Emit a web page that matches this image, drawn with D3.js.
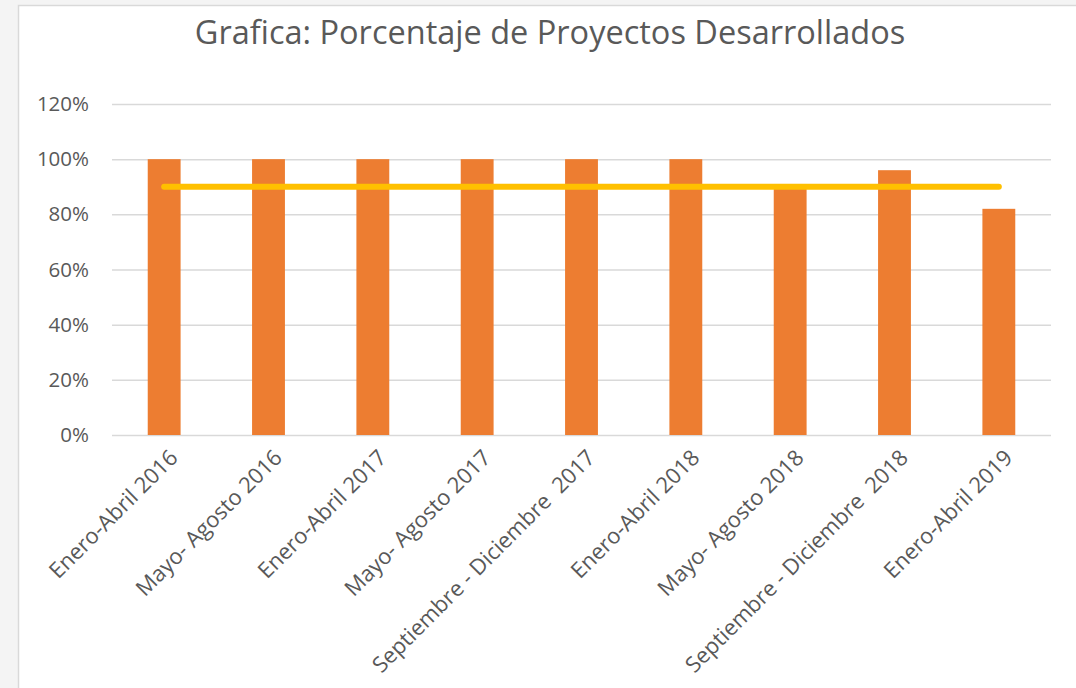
<!DOCTYPE html>
<html>
<head>
<meta charset="utf-8">
<script src="https://cdn.jsdelivr.net/npm/d3@7"></script>
<style>
  body { margin: 0; background: #f4f4f4; }
  svg { display: block; }
  .tick text { font-family: "Open Sans", sans-serif; fill: #595959; white-space: pre; }
</style>
</head>
<body>
<div id="chart"></div>
<script>
// chart data
var periods = [
  "Enero-Abril 2016",
  "Mayo- Agosto 2016",
  "Enero-Abril 2017",
  "Mayo- Agosto 2017",
  "Septiembre - Diciembre  2017",
  "Enero-Abril 2018",
  "Mayo- Agosto 2018",
  "Septiembre - Diciembre  2018",
  "Enero-Abril 2019"
];
var developed = [1.00, 1.00, 1.00, 1.00, 1.00, 1.00, 0.91, 0.96, 0.82];
var goal = [0.90, 0.90, 0.90, 0.90, 0.90, 0.90, 0.90, 0.90, 0.90];
var yTicks = [0, 0.2, 0.4, 0.6, 0.8, 1.0, 1.2];

var svgWidth = 1076;
var svgHeight = 688;

var margin = { top: 104, right: 25, bottom: 253, left: 112 };
var width = 1051 - margin.left;
var height = 435 - margin.top;

var svg = d3.select("#chart")
  .append("svg")
  .attr("width", svgWidth)
  .attr("height", svgHeight);

// white chart area with its light frame
svg.append("rect")
  .attr("x", 18.5)
  .attr("y", 5.5)
  .attr("width", 1100)
  .attr("height", 700)
  .attr("fill", "#ffffff")
  .attr("stroke", "#d9d9d9")
  .attr("stroke-width", 1.5);

// title
svg.append("text")
  .attr("x", 550)
  .attr("y", 44)
  .attr("text-anchor", "middle")
  .style("font-family", "'Open Sans', sans-serif")
  .style("font-size", "32.5px")
  .style("fill", "#595959")
  .text("Grafica: Porcentaje de Proyectos Desarrollados");

var chartGroup = svg.append("g")
  .attr("transform", `translate(${margin.left}, ${margin.top})`);

// scales
var xScale = d3.scaleBand()
  .domain(periods)
  .range([0, width])
  .paddingInner(0.685)
  .paddingOuter(0.3425);

var yScale = d3.scaleLinear()
  .domain([0, 1.2])
  .range([height, 0]);

// gridlines + y labels
var leftAxis = d3.axisLeft(yScale)
  .tickValues(yTicks)
  .tickFormat(d3.format(".0%"))
  .tickSize(-width)
  .tickPadding(23);

var yAxisG = chartGroup.append("g").call(leftAxis);
yAxisG.select(".domain").remove();
yAxisG.selectAll(".tick line")
  .attr("stroke", "#d9d9d9")
  .attr("stroke-width", 1.5);
yAxisG.selectAll(".tick text")
  .style("font-size", "20.5px");

// bars
chartGroup.selectAll("rect.bar")
  .data(developed)
  .enter()
  .append("rect")
  .attr("class", "bar")
  .attr("x", (d, i) => xScale(periods[i]))
  .attr("y", d => yScale(d))
  .attr("width", xScale.bandwidth())
  .attr("height", d => height - yScale(d))
  .attr("fill", "#ed7d31");

// goal line
var line = d3.line()
  .x((d, i) => xScale(periods[i]) + xScale.bandwidth() / 2)
  .y(d => yScale(d));

chartGroup.append("path")
  .datum(goal)
  .attr("d", line)
  .attr("fill", "none")
  .attr("stroke", "#ffc000")
  .attr("stroke-width", 6)
  .attr("stroke-linecap", "round");

// x labels
var bottomAxis = d3.axisBottom(xScale).tickSize(0).tickPadding(0);
var xAxisG = chartGroup.append("g")
  .attr("transform", `translate(0, ${height})`)
  .call(bottomAxis);
xAxisG.select(".domain").remove();
xAxisG.selectAll(".tick text")
  .style("font-size", "22px")
  .attr("text-anchor", "end")
  .attr("dy", "0")
  .attr("transform", "translate(15, 24) rotate(-45)");
</script>
</body>
</html>
